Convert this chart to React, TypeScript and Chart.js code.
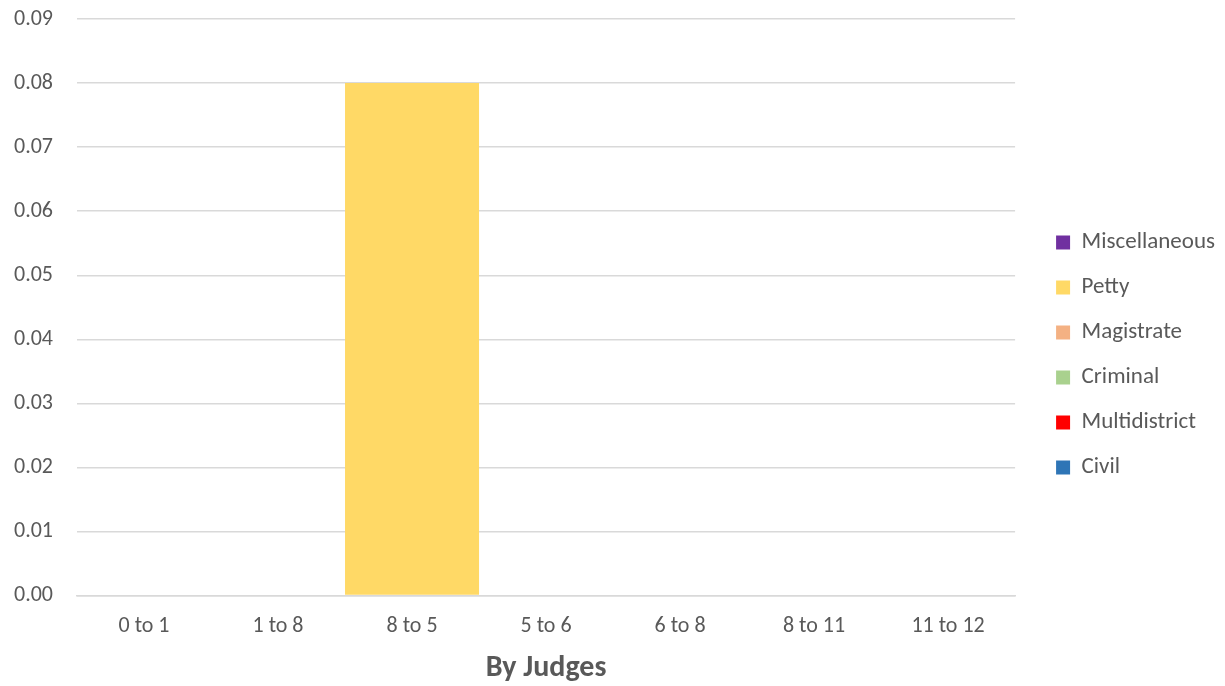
import React, { useEffect, useRef } from "react";
import { Chart, registerables } from "chart.js";

Chart.register(...registerables);

const categories = ["0 to 1", "1 to 8", "8 to 5", "5 to 6", "6 to 8", "8 to 11", "11 to 12"];
const civil = [0, 0, 0, 0, 0, 0, 0];
const multidistrict = [0, 0, 0, 0, 0, 0, 0];
const criminal = [0, 0, 0, 0, 0, 0, 0];
const magistrate = [0, 0, 0, 0, 0, 0, 0];
const petty = [0, 0, 0.08, 0, 0, 0, 0];
const miscellaneous = [0, 0, 0, 0, 0, 0, 0];
const seriesNames = ["Civil", "Multidistrict", "Criminal", "Magistrate", "Petty", "Miscellaneous"];
const seriesColors = ["#2E75B6", "#FF0000", "#A9D18E", "#F4B183", "#FFD966", "#7030A0"];
const axisTitle = "By Judges";

const FONT = "Carlito, Calibri, 'Liberation Sans', Arial, sans-serif";
const TEXT = "#595959";

const legendShift = {
  id: "legendShift",
  afterLayout(chart: any) {
    const lg = chart.legend;
    if (!lg) return;
    const dx = 19;
    const dy = 12;
    lg.left += dx;
    lg.right += dx;
    lg.top += dy;
    lg.bottom += dy;
  },
};

export default function App() {
  const ref = useRef<HTMLCanvasElement | null>(null);
  useEffect(() => {
    if (!ref.current) return;
    const values = [civil, multidistrict, criminal, magistrate, petty, miscellaneous];
    const chart = new Chart(ref.current, {
      type: "bar",
      data: {
        labels: categories,
        datasets: values.map((v, i) => ({
          label: seriesNames[i],
          data: v,
          backgroundColor: seriesColors[i],
          borderWidth: 0,
          inflateAmount: 0,
          barPercentage: 1,
          categoryPercentage: 1,
        })),
      },
      plugins: [legendShift],
      options: {
        animation: false,
        responsive: false,
        maintainAspectRatio: false,
        layout: { padding: { left: -10, top: 0, right: 19, bottom: 0 } },
        plugins: {
          tooltip: { enabled: false },
          legend: {
            position: "right",
            reverse: true,
            labels: {
              boxWidth: 14,
              boxHeight: 14,
              padding: 22,
              color: TEXT,
              font: { family: FONT, size: 23 },
            },
          },
        },
        scales: {
          x: {
            stacked: true,
            grid: { display: false },
            border: { display: true, color: "#D9D9D9", width: 1.5 },
            ticks: { color: TEXT, font: { family: FONT, size: 22 }, padding: 10 },
            title: {
              display: true,
              text: axisTitle,
              color: TEXT,
              font: { family: FONT, size: 30, weight: "bold" },
              padding: { top: 0, bottom: 0 },
            },
          },
          y: {
            stacked: true,
            min: 0,
            max: 0.09,
            border: { display: false },
            grid: { color: "#D9D9D9", lineWidth: 1.5, drawTicks: false },
            afterFit: (scale: any) => {
              scale.paddingTop = 19;
            },
            ticks: {
              stepSize: 0.01,
              color: TEXT,
              font: { family: FONT, size: 22 },
              padding: 24,
              callback: (v: any) => Number(v).toFixed(2),
            },
          },
        },
      },
    });
    return () => chart.destroy();
  }, []);
  return (
    <div style={{ position: "absolute", left: 0, top: 0, width: 1225, height: 686, background: "#fff" }}>
      <canvas ref={ref} width={1225} height={686} style={{ display: "block" }} />
    </div>
  );
}
